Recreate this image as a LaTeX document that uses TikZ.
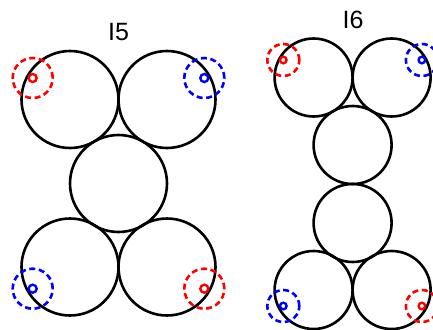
\documentclass[tikz,border=0pt]{standalone}
\usepackage{fontspec}
\setmainfont{Liberation Sans}
\begin{document}
\begin{tikzpicture}[x=1pt, y=-1pt,
  disc/.style={draw=black, line width=2.6pt},
  ring/.style={line width=2.6pt, dash pattern=on 6pt off 3.6pt},
  dot/.style={line width=2.4pt},
  title/.style={font=\fontsize{25}{30}\selectfont, inner sep=0pt}]
  \useasboundingbox (0,0) rectangle (433,329);

  % I5: five discs
  \node[title] (lblA) at (118.5,32.5) {I5};
  \foreach \name/\cx/\cy in {a1/70/99.5, a2/167/99.5, a3/118.5/183.5, a4/70/267, a5/167/267} {
    \coordinate (\name) at (\cx,\cy);
    \draw[disc] (\name) circle (48.5pt);
  }
  % I5: markers
  \foreach \name/\cx/\cy/\col in {pa1/32.7/78/red, pa2/204.3/78/blue, pa3/32.7/288.7/blue, pa4/204.3/288.7/red} {
    \coordinate (\name) at (\cx,\cy);
    \draw[ring, \col] (\name) circle (20pt);
    \draw[dot, \col] (\name) circle (4pt);
  }

  % I6: six discs
  \node[title] (lblB) at (353,20) {I6};
  \foreach \name/\cx/\cy in {b1/313.6/77.5, b2/391.6/77.5, b3/352.6/145, b4/352.6/223, b5/313.6/290, b6/391.6/290} {
    \coordinate (\name) at (\cx,\cy);
    \draw[disc] (\name) circle (39pt);
  }
  % I6: markers
  \foreach \name/\cx/\cy/\col in {pb1/283.3/60/red, pb2/421.9/60/blue, pb3/283.3/306/blue, pb4/421.9/306/red} {
    \coordinate (\name) at (\cx,\cy);
    \draw[ring, \col] (\name) circle (16pt);
    \draw[dot, \col] (\name) circle (3.3pt);
  }
\end{tikzpicture}
\end{document}
